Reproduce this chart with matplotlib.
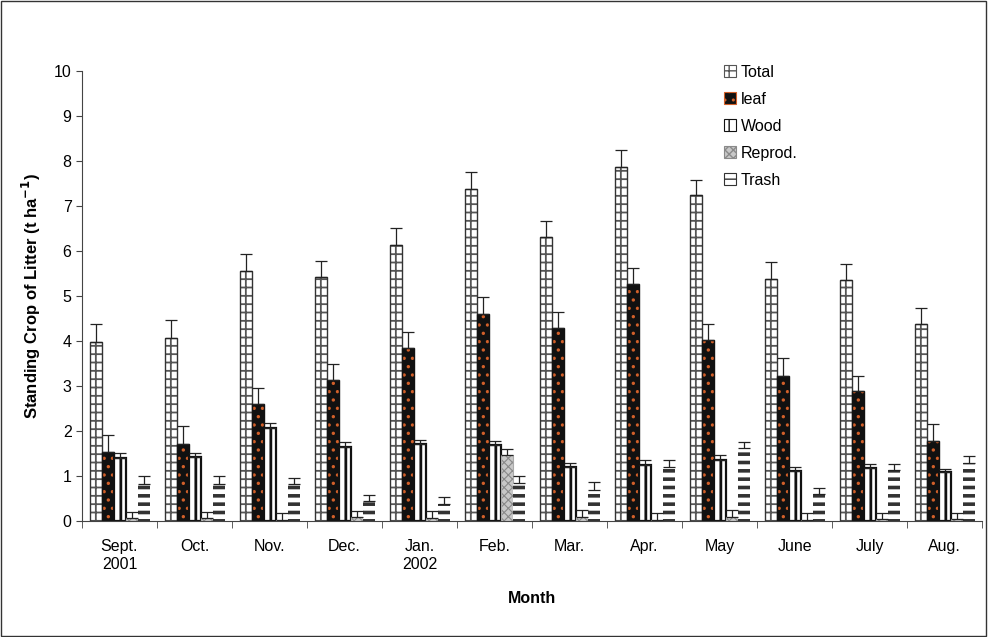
import numpy as np
import matplotlib.pyplot as plt
from matplotlib.patches import Rectangle

# ===== DATOS =====
months = ["Sept.\n2001", "Oct.", "Nov.", "Dec.", "Jan.\n2002", "Feb.", "Mar.",
          "Apr.", "May", "June", "July", "Aug."]
series = ["Total", "leaf", "Wood", "Reprod.", "Trash"]

total = [3.97, 4.07, 5.55, 5.43, 6.12, 7.38, 6.30, 7.87, 7.23, 5.37, 5.35, 4.37]
total_err = [0.40, 0.40, 0.37, 0.35, 0.38, 0.37, 0.36, 0.36, 0.35, 0.39, 0.35, 0.35]
leaf = [1.53, 1.72, 2.60, 3.13, 3.85, 4.60, 4.28, 5.27, 4.03, 3.23, 2.88, 1.77]
leaf_err = [0.39, 0.38, 0.35, 0.35, 0.35, 0.38, 0.37, 0.36, 0.35, 0.39, 0.35, 0.38]
wood = [1.41, 1.43, 2.07, 1.65, 1.71, 1.68, 1.20, 1.25, 1.35, 1.12, 1.18, 1.08]
wood_err = [0.10, 0.09, 0.11, 0.10, 0.09, 0.09, 0.08, 0.11, 0.11, 0.07, 0.09, 0.07]
reprod = [0.07, 0.07, 0.02, 0.10, 0.07, 1.47, 0.10, 0.02, 0.10, 0.02, 0.05, 0.05]
reprod_err = [0.13, 0.13, 0.15, 0.12, 0.15, 0.13, 0.15, 0.15, 0.15, 0.15, 0.12, 0.12]
trash = [0.83, 0.83, 0.82, 0.45, 0.38, 0.85, 0.70, 1.20, 1.62, 0.60, 1.13, 1.30]
trash_err = [0.17, 0.17, 0.13, 0.13, 0.15, 0.15, 0.17, 0.15, 0.13, 0.13, 0.14, 0.14]

plt.rcParams['font.family'] = ['Liberation Sans', 'DejaVu Sans']

fig = plt.figure(figsize=(9.88, 6.37), dpi=100)
ax = fig.add_axes([0.083, 0.182, 0.911, 0.707])

x = np.arange(len(months))
w = 0.16

# estilo por serie: (valores, error, cara, color trama, trama, borde, grosor trama, grosor borde)
styles = [
    (total, total_err, "white", "#555555", "++", "#333333", 1.3, 1.0),
    (leaf, leaf_err, "#111111", "#d2602a", "..", "#111111", 1.2, 1.0),
    (wood, wood_err, "white", "#111111", "||", "#111111", 2.0, 1.6),
    (reprod, reprod_err, "#c8c8c8", "#8a8a8a", "xxxx", "#aaaaaa", 0.8, 0.8),
    (trash, trash_err, "white", "#333333", "--", "none", 2.6, 0),
]

handles = []
for k, (vals, err, face, hc, hatch, edge, hlw, elw) in enumerate(styles):
    pos = x - 0.32 + k * w
    with plt.rc_context({'hatch.linewidth': hlw}):
        ax.bar(pos, vals, w, color=face, edgecolor=hc, hatch=hatch, linewidth=0)
        handles.append(Rectangle((0, 0), 1, 1, facecolor=face, edgecolor=hc,
                                 hatch=hatch, linewidth=0.8))
    if elw > 0:
        ax.bar(pos, vals, w, fill=False, edgecolor=edge, linewidth=elw)
    ax.errorbar(pos, vals, yerr=[np.zeros(len(vals)), err], fmt="none",
                ecolor="#222222", elinewidth=0.9, capsize=4, capthick=0.9)

ax.set_ylim(0, 10)
ax.set_xlim(-0.5, len(months) - 0.5)
ax.set_yticks(np.arange(0, 11, 1))
ax.set_xticks(x)
ax.set_xticklabels(months, fontsize=11.5)
ax.tick_params(axis='x', which='major', length=0, pad=13)
ax.set_xticks(np.arange(-0.5, len(months), 1), minor=True)
ax.tick_params(axis='x', which='minor', length=5, color="#444444")
ax.tick_params(axis='y', labelsize=11.5, length=4, color="#444444")

for s in ["top", "right"]:
    ax.spines[s].set_visible(False)
ax.spines["left"].set_color("#444444")
ax.spines["bottom"].set_color("#444444")

ax.set_ylabel("Standing Crop of Litter (t ha$^{\\mathbf{-1}}$)", fontsize=12,
              fontweight="bold", labelpad=8)
ax.set_xlabel("Month", fontsize=11.5, fontweight="bold", labelpad=14)

ax.legend(handles, series, loc="upper left", bbox_to_anchor=(0.697, 1.045),
          frameon=False, fontsize=11.5, handlelength=0.75, handleheight=0.75,
          labelspacing=0.75, handletextpad=0.3)

fig.patches.append(Rectangle((0.001, 0.001), 0.997, 0.997, transform=fig.transFigure,
                             fill=False, edgecolor="#333333", linewidth=1.0))

fig.savefig("out.png", dpi=100)
